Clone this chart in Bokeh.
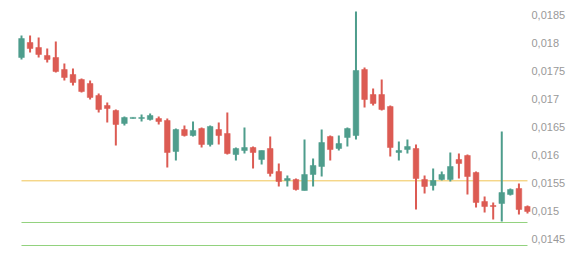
from bokeh.plotting import figure
from bokeh.models import ColumnDataSource, Range1d, FixedTicker, CustomJSTickFormatter
from bokeh.embed import file_html
from bokeh.resources import INLINE

# OHLC values
opens = [0.017732, 0.018000, 0.017911, 0.017768, 0.017732, 0.017518, 0.017429, 0.017339, 0.017268, 0.017054,
         0.016875, 0.016786, 0.016554, 0.016643, 0.016643, 0.016625, 0.016643, 0.016607, 0.016054, 0.016446,
         0.016339, 0.016464, 0.016179, 0.016446, 0.016375, 0.016000, 0.016071, 0.016125, 0.015911, 0.016107,
         0.015696, 0.015536, 0.015554, 0.015357, 0.015643, 0.015786, 0.016321, 0.016107, 0.016304, 0.016339,
         0.017518, 0.017071, 0.017071, 0.016857, 0.016036, 0.016089, 0.016107, 0.015554, 0.015446, 0.015554,
         0.015554, 0.015911, 0.015982, 0.015679, 0.015161, 0.015089, 0.015125, 0.015286, 0.015393, 0.015071]
highs = [0.018125, 0.018125, 0.018089, 0.017893, 0.018018, 0.017625, 0.017536, 0.017357, 0.017321, 0.017089,
         0.016929, 0.016804, 0.016679, 0.016663, 0.016714, 0.016732, 0.016679, 0.016643, 0.016464, 0.016518,
         0.016589, 0.016482, 0.016518, 0.016571, 0.016750, 0.016125, 0.016482, 0.016143, 0.016071, 0.016321,
         0.015839, 0.015625, 0.015571, 0.016268, 0.015929, 0.016446, 0.016339, 0.016339, 0.016482, 0.018554,
         0.017554, 0.017179, 0.017339, 0.016875, 0.016232, 0.016268, 0.016179, 0.015625, 0.015750, 0.015696,
         0.016036, 0.016018, 0.016000, 0.015696, 0.015250, 0.015143, 0.016411, 0.015393, 0.015482, 0.015089]
lows = [0.017696, 0.017821, 0.017732, 0.017643, 0.017464, 0.017321, 0.017232, 0.017107, 0.016982, 0.016750,
        0.016571, 0.016161, 0.016518, 0.016643, 0.016589, 0.016607, 0.016536, 0.015768, 0.015893, 0.016321,
        0.016321, 0.016125, 0.016143, 0.016179, 0.016000, 0.015893, 0.016018, 0.015750, 0.015821, 0.015607,
        0.015429, 0.015429, 0.015357, 0.015357, 0.015429, 0.015607, 0.015893, 0.016071, 0.016143, 0.016268,
        0.016839, 0.016875, 0.016786, 0.015964, 0.015893, 0.016018, 0.015018, 0.015304, 0.015357, 0.015536,
        0.015518, 0.015571, 0.015286, 0.015054, 0.014964, 0.014839, 0.014804, 0.015268, 0.014929, 0.014946]
closes = [0.018071, 0.017893, 0.017786, 0.017696, 0.017482, 0.017375, 0.017286, 0.017125, 0.017018, 0.016804,
          0.016821, 0.016536, 0.016661, 0.016663, 0.016661, 0.016696, 0.016589, 0.016036, 0.016446, 0.016339,
          0.016429, 0.016179, 0.016500, 0.016339, 0.016018, 0.016107, 0.016125, 0.016036, 0.016071, 0.015661,
          0.015518, 0.015571, 0.015375, 0.015643, 0.015804, 0.016214, 0.016089, 0.016196, 0.016464, 0.017500,
          0.016982, 0.016911, 0.016804, 0.016125, 0.016071, 0.016143, 0.015571, 0.015429, 0.015536, 0.015643,
          0.015786, 0.015839, 0.015607, 0.015143, 0.015071, 0.015071, 0.015321, 0.015375, 0.015018, 0.014982]

level_yellow = [0.01553]
levels_green = [0.014786, 0.014375]

tick_values = [0.0145, 0.015, 0.0155, 0.016, 0.0165, 0.017, 0.0175, 0.018, 0.0185]
tick_labels = ["0,0145", "0,015", "0,0155", "0,016", "0,0165", "0,017", "0,0175", "0,018", "0,0185"]

UP = "#4e9d8c"
DOWN = "#dc5b53"

n = len(opens)
idx = list(range(n))
up = [c >= o for o, c in zip(opens, closes)]

def sub(mask):
    return ColumnDataSource(dict(
        x=[i for i, m in zip(idx, mask) if m],
        top=[max(o, c) for o, c, m in zip(opens, closes, mask) if m],
        bottom=[min(o, c) for o, c, m in zip(opens, closes, mask) if m],
        high=[h for h, m in zip(highs, mask) if m],
        low=[l for l, m in zip(lows, mask) if m],
    ))

src_up = sub(up)
src_dn = sub([not u for u in up])

p = figure(frame_width=513, frame_height=258, output_backend="svg", toolbar_location=None,
           y_axis_location="right", min_border_left=17, min_border_right=54,
           min_border_top=0, min_border_bottom=0)
p.x_range = Range1d(-0.4664, 59.35)
p.y_range = Range1d(0.014143, 0.01875)
p.xaxis.visible = False
p.xgrid.visible = False
p.ygrid.visible = False
p.outline_line_color = None
p.background_fill_color = "white"
p.border_fill_color = "white"

ya = p.yaxis[0]
ya.ticker = FixedTicker(ticks=tick_values)
ya.formatter = CustomJSTickFormatter(args=dict(tv=tick_values, tl=tick_labels), code="""
    let best = 0, bd = 1e9;
    for (let i = 0; i < tv.length; i++) {
        const d = Math.abs(tv[i] - tick);
        if (d < bd) { bd = d; best = i; }
    }
    return tl[best];
""")
ya.axis_line_color = None
ya.major_tick_line_color = None
ya.minor_tick_line_color = None
ya.major_tick_out = 0
ya.major_tick_in = 0
ya.major_label_standoff = 1
ya.major_label_text_color = "#999999"
ya.major_label_text_font = "Liberation Sans"
ya.major_label_text_font_size = "11px"

x_first, x_last = idx[0], idx[-1]
p.segment(x0=[x_first] * len(level_yellow), x1=[x_last] * len(level_yellow), y0=level_yellow, y1=level_yellow,
          line_color="#f0c454", line_width=1)
p.segment(x0=[x_first] * len(levels_green), x1=[x_last] * len(levels_green), y0=levels_green, y1=levels_green,
          line_color="#92d27e", line_width=1)

for src, col in ((src_up, UP), (src_dn, DOWN)):
    p.segment(x0="x", x1="x", y0="low", y1="high", source=src, line_color=col, line_width=2)
    p.vbar(x="x", width=0.66, top="top", bottom="bottom", source=src, fill_color=col, line_color=col, line_width=0.5)

open("out.html", "w").write(file_html(p, INLINE))
